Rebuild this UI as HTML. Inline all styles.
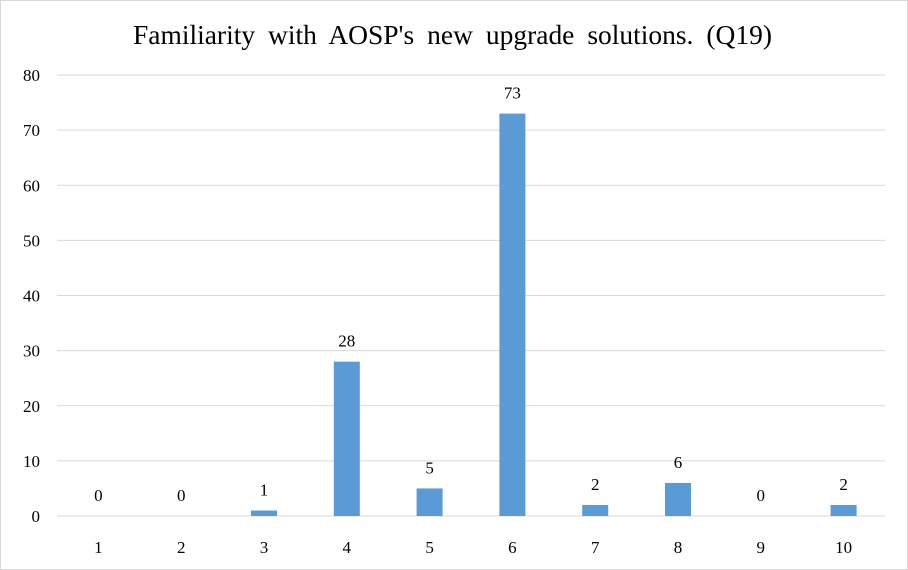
<!DOCTYPE html>
<html><head><meta charset="utf-8"><style>
html,body{margin:0;padding:0;background:#fff}
svg{display:block;font-family:"Liberation Serif",serif}
</style></head><body>
<svg id="chart" width="908" height="570">
<rect x="0.5" y="0.5" width="907" height="569" fill="#fff" stroke="#d9d9d9"/>
<text x="133" y="44" font-size="27" textLength="639" lengthAdjust="spacingAndGlyphs" word-spacing="6" fill="#000">Familiarity with AOSP's new upgrade solutions. (Q19)</text>
<g id="grid"></g><g id="bars"></g><g id="labels"></g><g id="xt"></g><g id="yt"></g>
</svg>
<script>
const categories = ["1","2","3","4","5","6","7","8","9","10"];
const values = [0,0,1,28,5,73,2,6,0,2];
const yTicks = [0,10,20,30,40,50,60,70,80];
const NS="http://www.w3.org/2000/svg";
const x0=57,x1=885,y0=516,y1=75,yMax=80;
const band=(x1-x0)/categories.length;
const xC=i=>x0+band*(i+0.5);
const yS=v=>y0-(v/yMax)*(y0-y1);
function mk(t,a,p){const e=document.createElementNS(NS,t);for(const k in a)e.setAttribute(k,a[k]);document.getElementById(p).appendChild(e);return e;}
yTicks.forEach(t=>{
 const l=mk("line",{x1:x0,x2:x1,y1:yS(t),y2:yS(t),stroke:"#d9d9d9","stroke-width":1},"grid");
 
 
 const tx=mk("text",{x:40,y:yS(t)+6,"text-anchor":"end","font-size":17},"yt");
 tx.textContent=t;
 
 
});
const bw=26;
categories.forEach((c,i)=>{
 const v=values[i];
 const r=mk("rect",{x:xC(i)-bw/2,y:yS(v),width:bw,height:y0-yS(v),fill:"#5b9bd5"},"bars");
 
 
 const lb=mk("text",{x:xC(i),y:yS(v)-15,"text-anchor":"middle","font-size":17},"labels");
 lb.textContent=v;
 
 
 const xt=mk("text",{x:xC(i),y:553,"text-anchor":"middle","font-size":17},"xt");
 xt.textContent=c;
 
 
});
</script>
</body></html>
